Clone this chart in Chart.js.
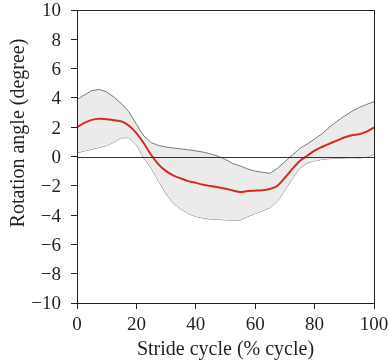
<!DOCTYPE html>
<html>
<head>
<meta charset="utf-8">
<script src="https://cdn.jsdelivr.net/npm/chart.js@4/dist/chart.umd.min.js"></script>
<style>
html, body { margin: 0; padding: 0; background: #fff; }
#wrap { width: 389px; height: 364px; }
</style>
</head>
<body>
<div id="wrap"><canvas id="chart"></canvas></div>
<script>
// stride cycle (% cycle)
var strideX = [0,2.5,5,7.5,10,12.5,15,17.5,20,22.5,25,27.5,30,32.5,35,37.5,40,42.5,45,47.5,50,52.5,55,57.5,60,62.5,65,67.5,70,72.5,75,77.5,80,82.5,85,87.5,90,92.5,95,97.5,100];
var meanAngle = [2.0,2.3,2.5,2.57,2.55,2.48,2.4,2.1,1.6,0.9,0.1,-0.55,-1.0,-1.3,-1.5,-1.68,-1.8,-1.93,-2.02,-2.1,-2.2,-2.32,-2.42,-2.35,-2.33,-2.3,-2.22,-2.0,-1.45,-0.85,-0.3,0.05,0.4,0.65,0.88,1.08,1.3,1.45,1.52,1.7,1.98];
var upperBand = [3.9,4.2,4.5,4.58,4.4,4.05,3.6,3.05,2.2,1.4,0.95,0.75,0.65,0.58,0.52,0.46,0.38,0.3,0.18,0.02,-0.2,-0.48,-0.65,-0.85,-1.0,-1.08,-1.15,-0.8,-0.35,0.1,0.55,0.85,1.2,1.55,2.0,2.4,2.75,3.08,3.35,3.55,3.75];
var lowerBand = [0.25,0.38,0.5,0.62,0.75,0.98,1.28,1.28,0.8,-0.1,-0.8,-1.7,-2.55,-3.2,-3.6,-3.9,-4.1,-4.2,-4.28,-4.3,-4.33,-4.35,-4.33,-4.1,-3.9,-3.7,-3.5,-3.05,-2.3,-1.5,-0.8,-0.45,-0.3,-0.2,-0.15,-0.12,-0.1,-0.08,-0.1,-0.05,0.15];
var xTicks = [0,20,40,60,80,100];
var yTicks = [-10,-8,-6,-4,-2,0,2,4,6,8,10];
var yTitle = 'Rotation angle (degree)';

function pts(arr){
	var out = [];
	for(var i=0;i<strideX.length;i++){
		out.push({x: strideX[i], y: arr[i]});
	}
	return out;
}

var serif = "'Liberation Serif', 'DejaVu Serif', serif";
var ink = '#231f20';

// box round the plot, zero line, y title (sits above centre in the original)
var framePlugin = {
	id: 'frame',
	afterDatasetsDraw: function(chart){
		var ctx = chart.ctx, a = chart.chartArea;
		var y0 = chart.scales.y.getPixelForValue(0);
		ctx.save();
		ctx.strokeStyle = '#333';
		ctx.lineWidth = 1;
		ctx.beginPath();
		ctx.moveTo(a.left, Math.round(y0)+0.5);
		ctx.lineTo(a.right, Math.round(y0)+0.5);
		ctx.stroke();
		ctx.strokeStyle = '#222';
		ctx.strokeRect(a.left+0.5, a.top+0.5, a.right-a.left, a.bottom-a.top);
		ctx.translate(19, 133);
		ctx.rotate(-Math.PI/2);
		ctx.fillStyle = ink;
		ctx.font = '20px ' + serif;
		ctx.textAlign = 'center';
		ctx.textBaseline = 'middle';
		ctx.fillText(yTitle, 0, 0);
		ctx.restore();
	}
};

new Chart(document.getElementById('chart'), {
	type: 'line',
	data: {
		datasets: [
			{
				data: pts(meanAngle),
				borderColor: '#d42a22',
				borderWidth: 2,
				fill: false,
				pointRadius: 0,
				tension: 0.3,
				order: 0
			},
			{
				data: pts(upperBand),
				borderColor: '#7a7a7a',
				borderWidth: 1,
				backgroundColor: '#ebebeb',
				fill: '+1',
				pointRadius: 0,
				tension: 0,
				order: 1
			},
			{
				data: pts(lowerBand),
				borderColor: '#7a7a7a',
				borderWidth: 1,
				fill: false,
				pointRadius: 0,
				tension: 0,
				order: 2
			}
		]
	},
	options: {
		responsive: true,
		maintainAspectRatio: false,
		animation: false,
		layout: { padding: { top: 10, right: 15, left: 0, bottom: 0 } },
		plugins: {
			legend: { display: false },
			tooltip: { enabled: false }
		},
		scales: {
			x: {
				type: 'linear',
				min: 0, max: 100,
				afterBuildTicks: function(s){ s.ticks = xTicks.map(function(v){ return {value: v}; }); },
				afterFit: function(s){ s.height = 61; s.paddingLeft = 0; s.paddingRight = 0; },
				grid: { drawOnChartArea: false, tickLength: 6, color: '#222' },
				border: { color: '#222' },
				ticks: { color: ink, font: { family: serif, size: 19 }, padding: 5, maxRotation: 0 },
				title: { display: true, text: 'Stride cycle (% cycle)', color: ink, font: { family: serif, size: 20 }, padding: { top: 0, bottom: 2 } }
			},
			y: {
				min: -10, max: 10,
				afterBuildTicks: function(s){ s.ticks = yTicks.map(function(v){ return {value: v}; }); },
				afterFit: function(s){ s.width = 77; s.paddingTop = 0; s.paddingBottom = 0; },
				grid: { drawOnChartArea: false, tickLength: 6, color: '#222' },
				border: { color: '#222' },
				ticks: {
					color: ink, font: { family: serif, size: 19 }, padding: 10, labelOffset: 1.5,
					callback: function(v){ return v < 0 ? '\u2212' + Math.abs(v) : '' + v; }
				}
			}
		}
	},
	plugins: [framePlugin]
});
</script>
</body>
</html>
